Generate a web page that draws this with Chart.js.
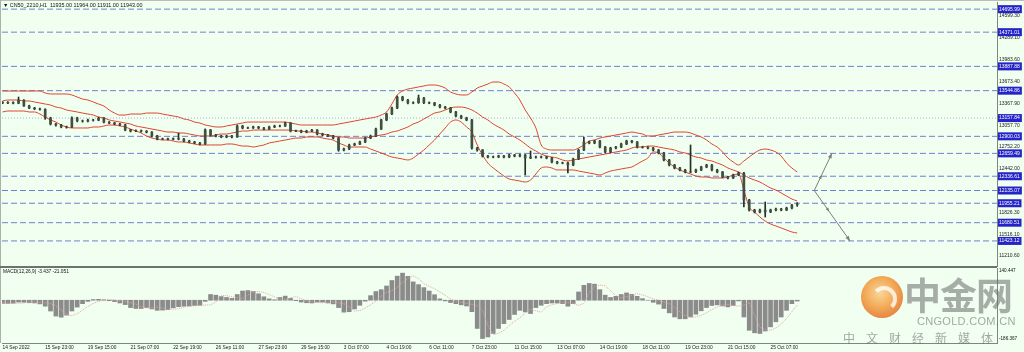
<!DOCTYPE html>
<html><head><meta charset="utf-8">
<script src="https://cdn.jsdelivr.net/npm/chart.js@4.4.0/dist/chart.umd.min.js"></script>
<style>
html,body{margin:0;padding:0;background:#f0fff0;}
body{width:1024px;height:352px;position:relative;overflow:hidden;font-family:'Liberation Sans',Arial,sans-serif;}
canvas{position:absolute;left:0;}
#main{top:0;}
#macd{top:267px;}
.topbar{position:absolute;left:0;top:0;width:1024px;height:1px;background:#b9beb9;}
.leftbar{position:absolute;left:0;top:0;width:1px;height:343px;background:#aab2aa;}
.sep{position:absolute;left:0;top:266px;width:997px;height:2px;background:#6b746b;}
#title{position:absolute;left:3px;top:2px;font-size:5.4px;color:#111;white-space:pre;}
#mlabel{position:absolute;left:3px;top:269px;font-size:4.8px;color:#111;white-space:pre;}
.mv{position:absolute;left:999px;font-size:4.6px;color:#111;}
#dbg{position:absolute;left:300px;top:100px;color:red;font-size:14px;}
.wm-logo{position:absolute;left:861px;top:276px;width:42px;height:42px;border-radius:50%;
 background:radial-gradient(circle at 45% 40%,#fbd08a 0%,#f29a3a 45%,#e2681f 80%,#d8571a 100%);opacity:.85;}
.wm-in{position:absolute;left:871px;top:286px;width:18px;height:18px;border-radius:50%;
 border:4px solid rgba(255,255,255,.85);border-left-color:transparent;border-bottom-color:transparent;opacity:.9;}
.wm-big{position:absolute;left:904px;top:272px;font-family:'Noto Sans CJK SC';font-weight:bold;font-size:37px;letter-spacing:-1px;color:rgba(105,105,105,.55);line-height:44px;}
.wm-url{position:absolute;left:917px;top:315px;font-family:'Liberation Sans';font-size:11px;color:rgba(110,110,110,.6);letter-spacing:.3px;}
.wm-sub{position:absolute;left:843px;top:329px;font-family:'Noto Sans CJK SC';font-size:12px;letter-spacing:11px;color:rgba(110,110,110,.6);}
</style></head>
<body>
<canvas id="main" width="1024" height="267"></canvas>
<canvas id="macd" width="1024" height="85"></canvas>
<div class="topbar"></div><div class="leftbar"></div><div class="sep"></div>
<div id="title">▼ CN50_2210,H1  11935.00 11964.00 11911.00 11943.00</div>
<div id="mlabel">MACD(12,26,9) -3.437 -21.051</div>
<div class="mv" style="top:268px">140.447</div>
<div class="mv" style="top:336px">-186.367</div>
<div class="wm-logo"></div><div class="wm-in"></div>
<div class="wm-big">中金网</div>
<div class="wm-url">CNGOLD.COM.CN</div>
<div class="wm-sub">中文财经新媒体</div>
<div id="dbg"></div>
<script>
// ---- categories / tick labels ----
const timeLabels = ["14 Sep 2022","15 Sep 23:00","19 Sep 15:00","21 Sep 07:00","22 Sep 19:00","26 Sep 11:00","27 Sep 23:00","29 Sep 15:00","3 Oct 07:00","4 Oct 19:00","6 Oct 11:00","7 Oct 23:00","11 Oct 15:00","13 Oct 07:00","14 Oct 19:00","18 Oct 11:00","19 Oct 23:00","21 Oct 15:00","25 Oct 07:00"];
const barsPerLabel = 8;
const priceTicks = [14599.30,14289.10,13983.60,13673.40,13367.90,13057.70,12752.20,12442.00,11826.30,11516.10,11210.60];
const levelValues = [14695.99,14371.01,13887.88,13544.86,12900.03,12659.49,12336.61,12135.07,11955.21,11680.51,11423.12];
const dottedLevels = [13157.84];
const macdTop = 140.447, macdBottom = -186.367;

// ---- H1 candles ----
const open = [13380,13371,13378,13368,13410,13330,13300,13288,13282,13160,
13075,13060,13032,13030,13160,13118,13115,13130,13128,13158,
13100,13088,13074,13062,12990,12975,12980,12972,12960,12905,
12862,12865,12860,12868,12862,12834,12820,12806,12792,12990,
12919,12905,12891,12905,12891,13046,13018,13020,13032,13018,
13004,13032,13046,13045,13088,12975,12978,12961,12975,12989,
12933,12919,12905,12876,12707,12721,12778,12792,12820,12876,
12905,13004,13131,13215,13300,13455,13413,13371,13375,13440,
13375,13371,13342,13314,13300,13244,13187,13159,13131,12735,
12707,12622,12608,12610,12622,12608,12636,12622,12636,12594,
12608,12605,12610,12594,12538,12523,12525,12495,12580,12707,
12820,12806,12834,12749,12679,12735,12749,12792,12834,12820,
12749,12745,12735,12707,12665,12566,12495,12453,12425,12396,
12400,12425,12467,12495,12425,12396,12326,12312,12354,12382,
12001,11860,11832,11860,11832,11860,11874,11860,11888,11935];
const high = [13392,13390,13388,13455,13418,13340,13310,13298,13290,13170,
13085,13070,13045,13175,13170,13130,13142,13140,13170,13165,
13110,13098,13084,13070,13000,12992,12990,12982,12968,12915,
12876,12875,12878,12947,12872,12845,12830,12816,13005,12998,
12930,12915,12916,12915,13060,13055,13032,13044,13042,13028,
13044,13058,13058,13100,13095,12990,12988,12986,13000,12996,
12944,12930,12915,12885,12735,12790,12804,12832,12888,12918,
13016,13142,13228,13312,13470,13466,13422,13388,13484,13450,
13386,13380,13352,13324,13310,13252,13198,13170,13140,12745,
12715,12632,12622,12634,12632,12648,12646,12648,12645,12693,
12620,12622,12620,12602,12548,12536,12535,12592,12720,12891,
12832,12846,12842,12758,12746,12760,12804,12846,12844,12828,
12760,12756,12745,12716,12674,12575,12504,12462,12435,12778,
12436,12478,12506,12505,12435,12405,12336,12366,12396,12390,
12010,11870,11872,11973,11872,11886,11884,11900,11940,11964];
const low = [13360,13362,13358,13360,13322,13290,13276,13270,13140,13060,
13045,13020,13015,13022,13105,13100,13105,13115,13120,13090,
13078,13062,13050,12978,12962,12965,12960,12948,12892,12850,
12852,12848,12850,12850,12822,12808,12795,12780,12785,12905,
12893,12880,12880,12878,12885,13005,13008,13010,13006,12992,
12995,13022,13034,13038,12962,12965,12950,12950,12965,12920,
12908,12894,12864,12690,12695,12712,12768,12782,12810,12866,
12895,12995,13120,13205,13290,13400,13358,13360,13365,13362,
13360,13330,13302,13288,13232,13175,13148,13120,12720,12690,
12608,12596,12596,12598,12594,12598,12610,12610,12354,12585,
12592,12594,12582,12526,12510,12512,12382,12485,12570,12698,
12794,12795,12736,12666,12670,12724,12740,12782,12808,12736,
12734,12724,12695,12652,12554,12482,12440,12412,12384,12385,
12388,12415,12456,12412,12384,12314,12300,12302,12344,11902,
11845,11818,11820,11761,11822,11848,11848,11850,11876,11911];
const close = [13371,13378,13368,13410,13330,13300,13288,13282,13160,13075,
13060,13032,13030,13160,13118,13115,13130,13128,13158,13100,
13088,13074,13062,12990,12975,12980,12972,12960,12905,12862,
12865,12860,12868,12862,12834,12820,12806,12792,12990,12919,
12905,12891,12905,12891,13046,13018,13020,13032,13018,13004,
13032,13046,13045,13088,12975,12978,12961,12975,12989,12933,
12919,12905,12876,12707,12721,12778,12792,12820,12876,12905,
13004,13131,13215,13300,13455,13413,13371,13375,13440,13375,
13371,13342,13314,13300,13244,13187,13159,13131,12735,12707,
12622,12608,12610,12622,12608,12636,12622,12636,12594,12608,
12605,12610,12594,12538,12523,12525,12495,12580,12707,12820,
12806,12834,12749,12679,12735,12749,12792,12834,12820,12749,
12745,12735,12707,12665,12566,12495,12453,12425,12396,12400,
12425,12467,12495,12425,12396,12326,12312,12354,12382,12001,
11860,11832,11860,11832,11860,11874,11860,11888,11930,11943];

// ---- Bollinger bands ----
const bbUpper = [13540,13540,13540,13540,13540,13540,13540,13540,13512,13498,
13498,13498,13498,13484,13455,13427,13413,13385,13356,13328,
13272,13229,13201,13201,13215,13215,13215,13229,13229,13229,
13215,13201,13187,13173,13145,13131,13102,13088,13060,13046,
13032,13032,13046,13060,13074,13088,13102,13102,13102,13102,
13102,13102,13102,13102,13088,13074,13060,13060,13060,13060,
13060,13060,13060,13074,13088,13102,13116,13131,13145,13159,
13173,13201,13244,13356,13484,13540,13568,13582,13597,13611,
13625,13625,13611,13582,13526,13498,13484,13484,13526,13582,
13611,13639,13667,13667,13639,13597,13512,13413,13272,13159,
13018,12778,12721,12707,12707,12707,12707,12707,12735,12778,
12834,12848,12876,12891,12905,12919,12933,12947,12961,12947,
12933,12905,12905,12919,12933,12947,12961,12961,12961,12947,
12919,12891,12848,12792,12749,12679,12594,12538,12495,12552,
12608,12665,12707,12721,12707,12679,12622,12523,12453,12396];
const bbMiddle = [13399,13413,13413,13413,13399,13399,13385,13371,13356,13342,
13314,13300,13272,13258,13244,13229,13215,13201,13173,13159,
13131,13116,13102,13088,13074,13046,13032,13018,13003,12989,
12975,12961,12961,12947,12947,12933,12919,12905,12905,12905,
12919,12933,12933,12947,12961,12975,12975,12989,12989,12989,
12989,12989,12989,12989,12989,12975,12975,12961,12961,12947,
12933,12919,12905,12891,12891,12876,12876,12876,12876,12891,
12905,12919,12933,12961,12975,13003,13032,13074,13102,13145,
13187,13229,13244,13272,13300,13314,13314,13300,13272,13229,
13173,13131,13074,13032,12989,12933,12891,12848,12792,12735,
12693,12650,12622,12608,12594,12566,12552,12566,12580,12594,
12608,12622,12636,12650,12665,12679,12693,12707,12735,12749,
12749,12763,12763,12749,12735,12721,12707,12679,12665,12636,
12608,12594,12566,12552,12523,12495,12453,12425,12396,12354,
12312,12283,12255,12213,12170,12142,12100,12057,12015,11987];
const bbLower = [13244,13258,13258,13258,13258,13244,13244,13215,13173,13131,
13102,13060,13032,13018,13018,13018,13018,13032,13032,13046,
13060,13060,13046,13032,13003,12975,12947,12905,12876,12862,
12848,12848,12834,12820,12820,12806,12792,12778,12778,12778,
12778,12778,12792,12792,12778,12763,12763,12749,12763,12778,
12806,12820,12834,12848,12862,12876,12876,12891,12891,12891,
12876,12862,12848,12806,12778,12749,12749,12749,12749,12721,
12693,12665,12636,12608,12594,12580,12566,12594,12650,12707,
12778,12848,12933,13018,13102,13131,13102,13032,12961,12778,
12636,12523,12453,12396,12340,12297,12283,12269,12255,12283,
12368,12453,12467,12453,12425,12425,12425,12425,12410,12396,
12382,12368,12354,12382,12410,12425,12439,12453,12467,12509,
12552,12594,12679,12665,12594,12523,12467,12425,12396,12368,
12340,12326,12326,12312,12312,12312,12326,12354,12368,12142,
11902,11832,11761,11704,11662,11634,11606,11577,11549,11535];

// ---- MACD(12,26,9) ----
const macdMain = [-14,-14,-13,-8,-9,-11,-12,-16,-26,-47,
-69,-74,-65,-47,-30,-15,-5,3,4,2,
-2,-6,-12,-19,-32,-36,-36,-32,-38,-44,
-43,-41,-33,-28,-26,-25,-23,-22,-5,25,
22,16,12,8,25,40,42,38,28,15,
6,2,12,18,8,-2,-8,-11,-12,-8,
-8,-12,-16,-32,-52,-50,-38,-22,-4,20,
38,46,62,86,105,118,104,80,68,55,
40,24,6,-3,-10,-15,-20,-25,-50,-123,
-167,-160,-145,-123,-102,-84,-62,-44,-51,-58,
-32,-22,-15,-12,-12,-15,-26,-15,36,65,
73,70,46,22,12,17,25,32,26,17,
7,0,-9,-17,-36,-55,-73,-81,-81,-73,
-61,-46,-32,-23,-20,-25,-29,-23,-3,-73,
-131,-142,-145,-134,-116,-94,-73,-44,-15,-3.437];
const macdSignal = [-12,-13,-13,-13,-12,-8,-9,-10,-11,-15,
-24,-42,-62,-67,-59,-43,-27,-14,-5,2,
3,1,-2,-5,-11,-17,-29,-33,-33,-30,
-34,-40,-39,-37,-30,-26,-24,-23,-21,-20,
-8,20,20,15,11,8,22,36,38,34,
25,14,6,3,11,16,7,-2,-7,-10,
-11,-8,-8,-11,-15,-29,-47,-45,-34,-20,
-4,18,34,42,56,78,95,106,94,72,
61,50,36,22,5,-3,-9,-14,-18,-23,
-45,-110,-150,-144,-131,-111,-92,-76,-56,-40,
-46,-52,-29,-20,-14,-11,-11,-14,-23,-14,
32,59,66,63,41,20,11,15,23,29,
23,15,6,0,-8,-15,-32,-50,-66,-73,
-73,-66,-55,-41,-29,-21,-18,-23,-26,-21,
-10,-66,-118,-128,-131,-121,-104,-80,-50,-21.051];

// ---- drawn scenario arrows (bar index, price) ----
const arrowX = [152.2, 155.5, 158.9];
const arrowY = [12135.07, 12659.49, 11423.12];

// ---------- build ----------
const X_MIN = -0.1, X_MAX = 186.46;
const FONT = 'Liberation Sans';
Chart.defaults.font.family = FONT;
Chart.defaults.animation = false;

const N = close.length;
const lens = [open,high,low,close,bbUpper,bbMiddle,bbLower,macdMain,macdSignal].map(a=>a.length);
if (lens.some(l=>l!==N)) document.getElementById('dbg').textContent = 'LEN ' + lens.join(',');

const idx = close.map((_, i) => i);
const pt = arr => idx.map(i => ({x: i, y: arr[i]}));
const labelIdx = timeLabels.map((_, k) => k * barsPerLabel);
const allLevels = levelValues.concat(dottedLevels);
const yTicks = priceTicks.concat(allLevels);

const wickColor = '#223022';
const bodyColor = '#3f4f40';
const bandColor = '#e0432f';
const levelColor = '#6f80d2';

const levelSets = levelValues.map(v => ({
  type: 'line', data: [{x: X_MIN, y: v}, {x: X_MAX, y: v}],
  borderColor: levelColor, borderWidth: 1, borderDash: [6, 3], pointRadius: 0, order: 9
})).concat(dottedLevels.map(v => ({
  type: 'line', data: [{x: X_MIN, y: v}, {x: X_MAX, y: v}],
  borderColor: '#a7b2d8', borderWidth: 1, borderDash: [1, 2], pointRadius: 0, order: 9
})));

const bandSet = (arr) => ({
  type: 'line', data: pt(arr), borderColor: bandColor, borderWidth: 1,
  pointRadius: 0, cubicInterpolationMode: 'monotone', tension: 0.4, order: 5
});

const arrowSets = [[0, 1], [0, 2]].map(([a, b]) => ({
  type: 'line', isArrow: true,
  data: [{x: arrowX[a], y: arrowY[a]}, {x: arrowX[b], y: arrowY[b]}],
  borderColor: '#7d7d7d', borderWidth: 1, pointRadius: 0, order: 3
}));

function head(ctx, x, y, ang, len, wid) {
  ctx.save(); ctx.translate(x, y); ctx.rotate(ang);
  ctx.beginPath(); ctx.moveTo(0, 0); ctx.lineTo(-len, -wid); ctx.lineTo(-len, wid); ctx.closePath();
  ctx.fill(); ctx.restore();
}
const arrowPlugin = {
  id: 'arrowHeads',
  afterDatasetsDraw(chart) {
    const ctx = chart.ctx;
    ctx.fillStyle = '#7d7d7d';
    chart.data.datasets.forEach((ds, di) => {
      if (!ds.isArrow) return;
      const p = chart.getDatasetMeta(di).data;
      const a = p[0], b = p[1];
      const ang = Math.atan2(b.y - a.y, b.x - a.x);
      head(ctx, b.x, b.y, ang, 5, 2);
      head(ctx, a.x + (b.x - a.x) * 0.42, a.y + (b.y - a.y) * 0.42, ang, 4, 1.6);
    });
  }
};

new Chart(document.getElementById('main'), {
  type: 'bar',
  data: {
    datasets: [
      {type: 'bar', data: idx.map(i => ({x: i, y: [low[i], high[i]]})), backgroundColor: wickColor,
       barThickness: 1, grouped: false, order: 1},
      {type: 'bar', data: idx.map(i => ({x: i, y: [open[i], close[i]]})), backgroundColor: bodyColor,
       barThickness: 2, grouped: false, order: 0},
      bandSet(bbUpper), bandSet(bbMiddle), bandSet(bbLower),
      ...arrowSets,
      ...levelSets
    ]
  },
  options: {
    responsive: false, animation: false, devicePixelRatio: 1,
    layout: {padding: {left: 2, right: 0, top: 2, bottom: 1}},
    plugins: {legend: {display: false}, tooltip: {enabled: false}},
    scales: {
      x: {type: 'linear', min: X_MIN, max: X_MAX, offset: false, display: false},
      y: {
        type: 'linear', position: 'right', min: 11069, max: 14797,
        afterBuildTicks: s => { s.ticks = yTicks.map(v => ({value: v})); },
        afterFit: s => { s.width = 27; s.paddingTop = 0; s.paddingBottom = 0; },
        grid: {display: false, drawTicks: false},
        border: {display: true, color: '#7f867f', width: 1},
        ticks: {
          autoSkip: false, padding: 2,
          font: {size: 5, family: FONT},
          color: c => allLevels.includes(c.tick.value) ? '#ffffff' : '#1a1a1a',
          showLabelBackdrop: c => allLevels.includes(c.tick.value),
          backdropColor: '#2424c8',
          backdropPadding: {top: 1, bottom: 1, left: 1, right: 2},
          callback: v => Number(v).toFixed(2)
        }
      }
    }
  },
  plugins: [arrowPlugin]
});

new Chart(document.getElementById('macd'), {
  type: 'bar',
  data: {
    datasets: [
      {type: 'line', data: pt(macdSignal), borderColor: '#e2a4a4', borderWidth: 1, borderDash: [1, 1],
       pointRadius: 0, order: 0},
      {type: 'bar', data: pt(macdMain), backgroundColor: '#8b8b8b', barThickness: 4, grouped: false, order: 1}
    ]
  },
  options: {
    responsive: false, animation: false, devicePixelRatio: 1,
    layout: {padding: {left: 2, right: 0, top: 1, bottom: 0}},
    plugins: {legend: {display: false}, tooltip: {enabled: false}},
    scales: {
      x: {
        type: 'linear', min: X_MIN, max: X_MAX, offset: false,
        afterBuildTicks: s => { s.ticks = labelIdx.map(v => ({value: v})); },
        afterFit: s => { s.height = 9; s.paddingLeft = 0; s.paddingRight = 0; },
        grid: {display: false, drawTicks: false},
        border: {display: true, color: '#7f867f'},
        ticks: {autoSkip: false, maxRotation: 0, align: 'start', padding: 1.5,
          font: {size: 4.8, family: FONT}, color: '#1a1a1a',
          callback: v => timeLabels[labelIdx.indexOf(v)]}
      },
      y: {
        type: 'linear', position: 'right', min: macdBottom, max: macdTop,
        afterFit: s => { s.width = 27; s.paddingTop = 0; s.paddingBottom = 0; },
        grid: {display: false, drawTicks: false},
        border: {display: true, color: '#7f867f'},
        ticks: {display: false}
      }
    }
  }
});
</script>
</body></html>
